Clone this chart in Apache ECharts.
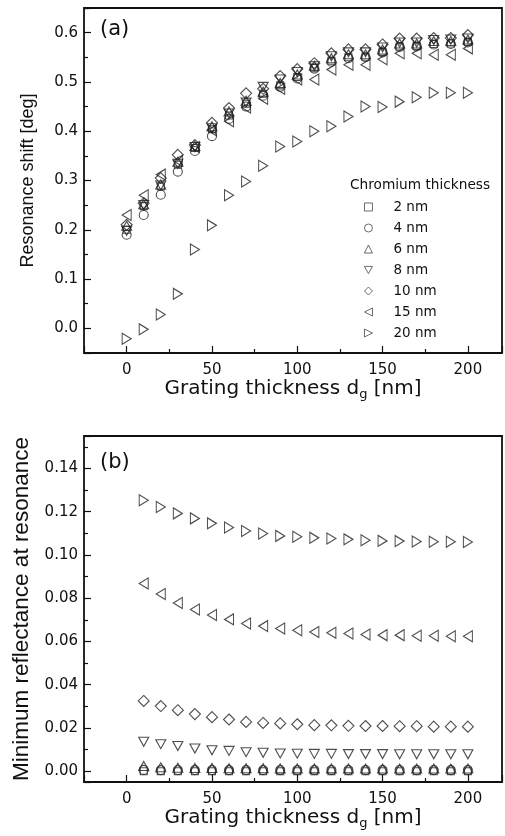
<!DOCTYPE html>
<html>
<head>
<meta charset="utf-8">
<script src="https://cdn.jsdelivr.net/npm/echarts@6/dist/echarts.min.js"></script>
<style>
  html, body { margin: 0; padding: 0; background: #fff; }
  #chart { width: 505px; height: 836px; }
</style>
</head>
<body>
<div id="chart"></div>
<script>
// chromium layer thicknesses (legend)
const chromiumLabels = ['2 nm', '4 nm', '6 nm', '8 nm', '10 nm', '15 nm', '20 nm'];

// panel (a): resonance shift [deg] vs grating thickness
const gratingA = [0, 10, 20, 30, 40, 50, 60, 70, 80, 90, 100, 110, 120, 130, 140, 150, 160, 170, 180, 190, 200];
const shift2nm  = [0.200, 0.248, 0.288, 0.332, 0.366, 0.404, 0.432, 0.456, 0.476, 0.493, 0.510, 0.529, 0.543, 0.550, 0.551, 0.561, 0.572, 0.573, 0.577, 0.578, 0.581];
const shift4nm  = [0.190, 0.230, 0.271, 0.318, 0.360, 0.390, 0.425, 0.450, 0.472, 0.490, 0.507, 0.527, 0.541, 0.548, 0.550, 0.560, 0.571, 0.572, 0.576, 0.577, 0.580];
const shift6nm  = [0.208, 0.252, 0.292, 0.338, 0.370, 0.410, 0.440, 0.462, 0.480, 0.498, 0.515, 0.533, 0.548, 0.556, 0.556, 0.566, 0.578, 0.578, 0.583, 0.583, 0.586];
const shift8nm  = [0.198, 0.250, 0.290, 0.334, 0.368, 0.406, 0.436, 0.458, 0.490, 0.505, 0.520, 0.532, 0.552, 0.560, 0.560, 0.570, 0.580, 0.580, 0.585, 0.586, 0.588];
const shift10nm = [0.210, 0.254, 0.305, 0.352, 0.372, 0.417, 0.447, 0.477, 0.486, 0.512, 0.526, 0.538, 0.558, 0.566, 0.566, 0.576, 0.588, 0.588, 0.589, 0.589, 0.595];
const shift15nm = [0.230, 0.270, 0.312, 0.340, 0.368, 0.402, 0.420, 0.448, 0.466, 0.486, 0.505, 0.505, 0.525, 0.535, 0.535, 0.546, 0.558, 0.558, 0.555, 0.555, 0.568];
const shift20nm = [-0.021, -0.002, 0.028, 0.070, 0.160, 0.209, 0.270, 0.298, 0.330, 0.369, 0.379, 0.400, 0.410, 0.430, 0.450, 0.449, 0.460, 0.469, 0.478, 0.478, 0.478];

// panel (b): minimum reflectance at resonance vs grating thickness
const gratingB = [10, 20, 30, 40, 50, 60, 70, 80, 90, 100, 110, 120, 130, 140, 150, 160, 170, 180, 190, 200];
const refl2nm  = [0.0000, 0.0000, 0.0000, 0.0000, 0.0000, 0.0000, 0.0000, 0.0000, 0.0000, 0.0000, 0.0000, 0.0000, 0.0000, 0.0000, 0.0000, 0.0000, 0.0000, 0.0000, 0.0000, 0.0000];
const refl4nm  = [0.0006, 0.0005, 0.0005, 0.0005, 0.0005, 0.0005, 0.0005, 0.0005, 0.0005, 0.0005, 0.0005, 0.0005, 0.0005, 0.0005, 0.0005, 0.0005, 0.0005, 0.0005, 0.0005, 0.0005];
const refl6nm  = [0.0024, 0.0018, 0.0016, 0.0015, 0.0015, 0.0014, 0.0014, 0.0014, 0.0013, 0.0013, 0.0013, 0.0013, 0.0013, 0.0012, 0.0012, 0.0012, 0.0012, 0.0012, 0.0012, 0.0012];
const refl8nm  = [0.0136, 0.0125, 0.0116, 0.0105, 0.0097, 0.0094, 0.0088, 0.0085, 0.0082, 0.0081, 0.0080, 0.0080, 0.0079, 0.0079, 0.0079, 0.0078, 0.0078, 0.0078, 0.0078, 0.0078];
const refl10nm = [0.0325, 0.0301, 0.0282, 0.0264, 0.0250, 0.0239, 0.0228, 0.0223, 0.0221, 0.0217, 0.0213, 0.0212, 0.0210, 0.0209, 0.0209, 0.0208, 0.0208, 0.0206, 0.0206, 0.0206];
const refl15nm = [0.0868, 0.0819, 0.0778, 0.0748, 0.0722, 0.0702, 0.0683, 0.0671, 0.0660, 0.0652, 0.0644, 0.0640, 0.0637, 0.0632, 0.0629, 0.0629, 0.0626, 0.0626, 0.0624, 0.0624];
const refl20nm = [0.1253, 0.1222, 0.1192, 0.1169, 0.1146, 0.1127, 0.1111, 0.1099, 0.1088, 0.1084, 0.1079, 0.1076, 0.1072, 0.1068, 0.1065, 0.1064, 0.1062, 0.1061, 0.1061, 0.1060];

const shiftSeries = [shift2nm, shift4nm, shift6nm, shift8nm, shift10nm, shift15nm, shift20nm];
const reflSeries = [refl2nm, refl4nm, refl6nm, refl8nm, refl10nm, refl15nm, refl20nm];

// hollow marker per chromium thickness
const markers = [
    { symbol: 'rect', size: [7, 7] },
    { symbol: 'circle', size: 9 },
    { symbol: 'triangle', size: [10, 9] },
    { symbol: 'path://M0,0L10,0L5,9Z', size: [10, 9] },
    { symbol: 'diamond', size: [11, 11] },
    { symbol: 'path://M10,0L0,5L10,10Z', size: [9, 11] },
    { symbol: 'path://M0,0L10,5L0,10Z', size: [9, 11] }
];

const FONT = 'DejaVu Sans';
const INK = '#111';

function xAxisFor(gridIndex) {
    return {
        gridIndex: gridIndex,
        type: 'value',
        min: -25,
        max: 220,
        name: 'Grating thickness d{sub|g} [nm]',
        nameLocation: 'middle',
        nameGap: 21,
        nameTextStyle: {
            color: INK, fontFamily: FONT, fontSize: 20,
            rich: { sub: { fontFamily: FONT, fontSize: 13, color: INK, padding: [12, 0, 0, 0] } }
        },
        axisLine: { show: false, onZero: false },
        axisTick: { inside: true, length: 7, lineStyle: { color: INK, width: 1.2 } },
        minorTick: { show: true, splitNumber: 2, length: 4, lineStyle: { color: INK, width: 1.2 } },
        splitLine: { show: false },
        axisLabel: {
            color: INK, fontFamily: FONT, fontSize: 15, margin: 10,
            showMinLabel: false, showMaxLabel: false
        }
    };
}

function yAxisFor(gridIndex, min, max, split, digits, title, titleSize, gap) {
    return {
        gridIndex: gridIndex,
        type: 'value',
        min: min,
        max: max,
        splitNumber: split,
        name: title,
        nameLocation: 'middle',
        nameGap: gap,
        nameTextStyle: { color: INK, fontFamily: 'Liberation Sans', fontSize: titleSize },
        axisLine: { show: false, onZero: false },
        axisTick: { inside: true, length: 7, lineStyle: { color: INK, width: 1.2 } },
        minorTick: { show: true, splitNumber: 2, length: 4, lineStyle: { color: INK, width: 1.2 } },
        splitLine: { show: false },
        axisLabel: {
            color: INK, fontFamily: FONT, fontSize: 15, margin: 6,
            showMinLabel: false, showMaxLabel: false,
            formatter: v => v.toFixed(digits)
        }
    };
}

function scatterSeries(i, xs, ys, panel) {
    return {
        name: chromiumLabels[i],
        type: 'scatter',
        xAxisIndex: panel,
        yAxisIndex: panel,
        symbol: markers[i].symbol,
        symbolSize: markers[i].size,
        itemStyle: { color: 'rgba(0,0,0,0)', borderColor: '#222', borderWidth: 1.1 },
        emphasis: { disabled: true },
        data: xs.map((x, k) => [x, ys[k]])
    };
}

const series = [];
shiftSeries.forEach((ys, i) => series.push(scatterSeries(i, gratingA, ys, 0)));
reflSeries.forEach((ys, i) => series.push(scatterSeries(i, gratingB, ys, 1)));

const chart = echarts.init(document.getElementById('chart'), null, { renderer: 'canvas' });

chart.setOption({
    backgroundColor: '#fff',
    animation: false,
    grid: [
        { left: 84, top: 8, width: 418, height: 345, show: true, borderColor: INK, borderWidth: 1.8, backgroundColor: 'transparent' },
        { left: 84, top: 436, width: 418, height: 346, show: true, borderColor: INK, borderWidth: 1.8, backgroundColor: 'transparent' }
    ],
    xAxis: [xAxisFor(0), xAxisFor(1)],
    yAxis: [
        yAxisFor(0, -0.05, 0.65, 5, 1, 'Resonance shift [deg]', 18, 47),
        yAxisFor(1, -0.005, 0.155, 8, 2, 'Minimum reflectance at resonance', 22.5, 47)
    ],
    legend: {
        data: chromiumLabels,
        orient: 'vertical',
        left: 364,
        top: 199,
        padding: 0,
        itemWidth: 8,
        itemHeight: 8,
        itemGap: 5,
        selectedMode: false,
        itemStyle: { borderWidth: 0.9, borderColor: '#333' },
        textStyle: { color: INK, fontFamily: FONT, fontSize: 13.5, lineHeight: 16, padding: [0, 0, 0, 16] }
    },
    graphic: [
        { type: 'text', x: 100, y: 30, style: { text: '(a)', fontFamily: FONT, fontSize: 21, fill: INK, verticalAlign: 'middle' } },
        { type: 'text', x: 100, y: 463, style: { text: '(b)', fontFamily: FONT, fontSize: 21, fill: INK, verticalAlign: 'middle' } },
        { type: 'text', x: 350, y: 185, style: { text: 'Chromium thickness', fontFamily: FONT, fontSize: 13.7, fill: INK, verticalAlign: 'middle' } }
    ],
    series: series
});
</script>
</body>
</html>
